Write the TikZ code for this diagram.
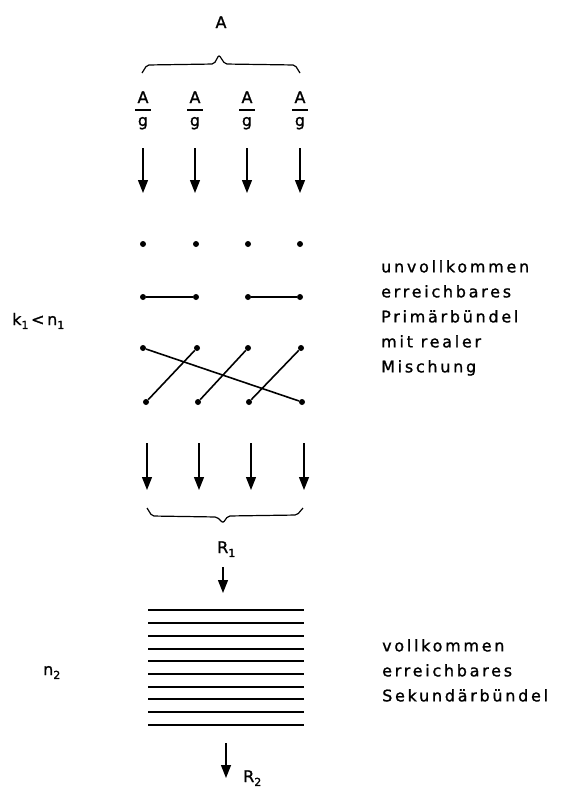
\documentclass[tikz,border=0pt]{standalone}
\usepackage{fontspec}
\setmainfont{DejaVu Sans}[LetterSpace=17, FakeBold=1.2]
\usetikzlibrary{arrows.meta}
\newcommand\lowidx[1]{\raisebox{-0.45ex}{\fontsize{11}{11}\selectfont #1}}

\tikzset{
  lbl/.style={font=\fontsize{16}{25}\selectfont, inner sep=0pt},
  note/.style={lbl, anchor=north west, align=left},
  flow/.style={-{Triangle[width=10pt,length=13pt]}, line width=1.4pt},
  dot/.style={circle, fill, inner sep=0pt, minimum size=6pt},
  wire/.style={line width=1.6pt},
  bracepath/.style={line width=1.2pt, rounded corners=2pt},
}

\begin{document}
\begin{tikzpicture}[x=1pt, y=-1pt]
\useasboundingbox (0,0) rectangle (564,788);
% offered traffic, split into g parts
\node[lbl, anchor=base] (total) at (221,28) {A};
\draw[bracepath] (142,73) -- (147,65) -- (214,64) -- (219,55) -- (225,64) -- (295,65) -- (300,73);
\foreach \i/\x in {1/143, 2/195, 3/247, 4/300} {
  \node[lbl, anchor=base] (num\i) at (\x,103) {A};
  \node[lbl, anchor=base] (den\i) at (\x,126) {g};
  \draw[line width=1.2pt] (\x-8,110) -- (\x+8,110);
  \coordinate (in\i) at (\x,148);
  \coordinate (inend\i) at (\x,193);
  \draw[flow] (in\i) -- (inend\i);
}
% primary group, three gradings
\foreach \i/\x in {1/143, 2/196, 3/248, 4/300} {
  \node[dot] (ra\i) at (\x,244) {};
  \node[dot] (rb\i) at (\x,297) {};
}
\draw[wire] (rb1) -- (rb2);
\draw[wire] (rb3) -- (rb4);
\foreach \i/\x in {1/143, 2/197, 3/248, 4/301}
  \node[dot] (top\i) at (\x,348) {};
\foreach \i/\x in {1/146, 2/198, 3/249, 4/302}
  \node[dot] (bot\i) at (\x,402) {};
\draw[wire] (top1) -- (bot4);
\draw[wire] (top2) -- (bot1);
\draw[wire] (top3) -- (bot2);
\draw[wire] (top4) -- (bot3);
\node[lbl, anchor=base west] (cond1) at (12,325) {k\lowidx{1}\,<\,n\lowidx{1}};
\node[note] (prim) at (381,260) {unvollkommen\\erreichbares\\Primärbündel\\mit realer\\Mischung};
% overflow traffic
\foreach \i/\x in {1/147, 2/199, 3/251, 4/304} {
  \coordinate (ov\i) at (\x,443);
  \coordinate (ovend\i) at (\x,490);
  \draw[flow] (ov\i) -- (ovend\i);
}
\draw[bracepath] (147,508) -- (152,516) -- (217,517) -- (223,523) -- (228,516) -- (297,515) -- (303,508);
\node[lbl, anchor=base west] (rest1) at (217,553) {R\lowidx{1}};
\coordinate (sec) at (223,593);
\draw[flow] (rest1.south -| sec) ++(0,10) coordinate (secin) -- (sec);
% secondary group
\foreach \y in {610,623,636,649,661,674,687,699,712,725}
  \draw[wire] (148,\y) -- (304,\y);
\node[lbl, anchor=base west] (cond2) at (43,675) {n\lowidx{2}};
\node[note] (seco) at (382,639) {vollkommen\\erreichbares\\Sekundärbündel};
\coordinate (outa) at (226,743);
\coordinate (outb) at (226,778);
\draw[flow] (outa) -- (outb);
\node[lbl, anchor=base west] (rest2) at (243,782) {R\lowidx{2}};
\end{tikzpicture}
\end{document}
